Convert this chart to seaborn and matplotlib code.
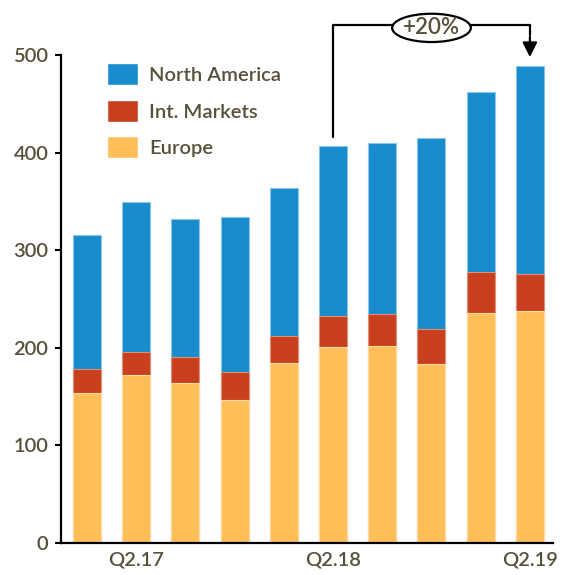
import pandas as pd
import numpy as np
import matplotlib
matplotlib.use("Agg")
import matplotlib.pyplot as plt
import seaborn as sns
from matplotlib.patches import Patch, Ellipse

quarters = ['Q1.17', 'Q2.17', 'Q3.17', 'Q4.17', 'Q1.18', 'Q2.18', 'Q3.18', 'Q4.18', 'Q1.19', 'Q2.19']
europe = [154, 172, 164, 147, 184, 201, 202, 183, 236, 238]
int_markets = [24, 24, 27, 28, 28, 32, 33, 36, 42, 38]
north_america = [138, 154, 141, 159, 152, 174, 175, 196, 184, 213]
tick_labels = ['Q2.17', 'Q2.18', 'Q2.19']
growth_label = '+20%'

text_col = '#574f3a'
c_na, c_int, c_eu = '#188ccd', '#c9401e', '#ffbf58'

sns.set_style('white')
plt.rcParams['font.family'] = ['Lato', 'DejaVu Sans']
plt.rcParams['font.weight'] = 'semibold'

df = pd.DataFrame({'quarter': quarters, 'Europe': europe,
                   'Int': int_markets, 'NA': north_america})
df['eu_top'] = df['Europe']
df['int_top'] = df['Europe'] + df['Int']
df['na_top'] = df['int_top'] + df['NA']

fig = plt.figure(figsize=(5.62, 5.75), dpi=100)
ax = fig.add_axes([0.1085, 0.0557, 0.8755, 0.8483])

# stacked look: draw cumulative totals, tallest first
sns.barplot(data=df, x='quarter', y='na_top', color=c_na, width=0.57,
            edgecolor='#8cc6ea', linewidth=0.8, saturation=1, ax=ax)
sns.barplot(data=df, x='quarter', y='int_top', color=c_int, width=0.57,
            edgecolor='#e08f78', linewidth=0.8, saturation=1, ax=ax)
sns.barplot(data=df, x='quarter', y='eu_top', color=c_eu, width=0.57,
            edgecolor='#ffdca3', linewidth=0.8, saturation=1, ax=ax)

ax.set_xlim(-0.53, 9.47)
ax.set_ylim(0, 500)
ax.set_yticks(np.arange(0, 501, 100))
ax.set_xticks([quarters.index(t) for t in tick_labels])
ax.set_xticklabels(tick_labels)
ax.set_xlabel('')
ax.set_ylabel('')

for s in ['top', 'right']:
    ax.spines[s].set_visible(False)
for s in ['left', 'bottom']:
    ax.spines[s].set_color('black')
    ax.spines[s].set_linewidth(1.6)

ax.tick_params(axis='y', length=4, width=1.5, color='black', pad=5,
               labelsize=14.5, labelcolor=text_col, left=True)
ax.tick_params(axis='x', length=0, pad=6, labelsize=14.5, labelcolor=text_col)

handles = [Patch(facecolor=c_na, label='North America'),
           Patch(facecolor=c_int, label='Int. Markets'),
           Patch(facecolor=c_eu, label='Europe')]
leg = ax.legend(handles=handles, loc='upper left', bbox_to_anchor=(0.0935, 0.983),
                frameon=False, fontsize=14.5, handlelength=1.55, handleheight=1.3,
                handletextpad=0.55, labelspacing=0.72, borderpad=0, borderaxespad=0)
for t in leg.get_texts():
    t.set_color(text_col)

# growth annotation from Q2.18 to Q2.19
i0, i1 = quarters.index('Q2.18'), quarters.index('Q2.19')
y_top = 531
ax.plot([i0, i0, i1, i1], [df['na_top'][i0] + 9, y_top, y_top, y_top - 10],
        color='black', lw=1.6, clip_on=False, zorder=5)
ax.annotate('', xy=(i1, df['na_top'][i1] + 9), xytext=(i1, y_top - 12),
            arrowprops=dict(arrowstyle='-|>', color='black', lw=1.6,
                            mutation_scale=22, shrinkA=0, shrinkB=0),
            annotation_clip=False, zorder=5)
ell = Ellipse(((i0 + i1) / 2, 528), width=1.6, height=29, facecolor='white',
              edgecolor='black', lw=1.6, clip_on=False, zorder=6)
ax.add_patch(ell)
ax.text((i0 + i1) / 2, 528, growth_label, ha='center', va='center',
        fontsize=16, color=text_col, zorder=7)

fig.savefig('out.png', dpi=100)
